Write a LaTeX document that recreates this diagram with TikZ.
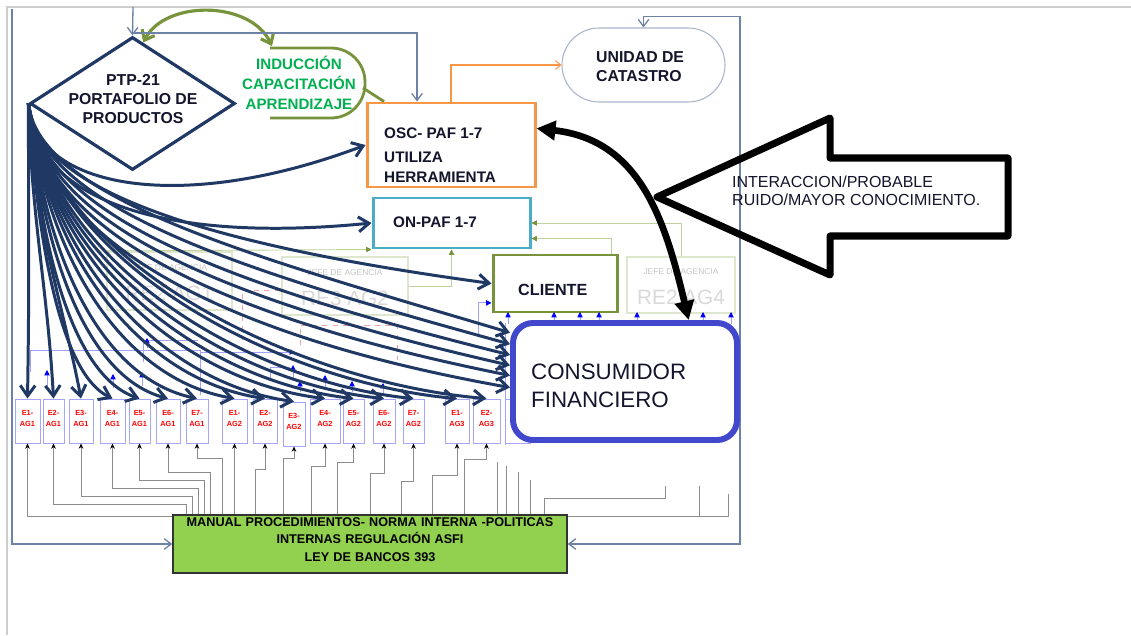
\documentclass[tikz,border=0pt]{standalone}
\usepackage{fontspec}
\setmainfont{Liberation Sans}
\usetikzlibrary{arrows.meta,shapes.geometric,fit}

\definecolor{navy}{RGB}{31,56,100}
\definecolor{inktext}{RGB}{20,20,45}
\definecolor{frameblue}{RGB}{110,130,165}
\definecolor{screengray}{RGB}{205,205,205}
\definecolor{oscorange}{RGB}{247,150,70}
\definecolor{onteal}{RGB}{75,172,198}
\definecolor{olivegreen}{RGB}{119,147,60}
\definecolor{indgreen}{RGB}{0,176,80}
\definecolor{consblue}{RGB}{66,72,204}
\definecolor{manualgreen}{RGB}{146,208,80}
\definecolor{eborder}{RGB}{165,165,250}
\definecolor{faintolive}{RGB}{190,210,160}
\definecolor{faintbox}{RGB}{222,230,205}
\definecolor{wiregray}{RGB}{140,140,140}
\definecolor{lightblue}{RGB}{160,160,255}
\definecolor{faintred}{RGB}{240,160,160}
\definecolor{unidadline}{RGB}{170,180,205}

\tikzset{
  frameline/.style={draw=frameblue, line width=0.75pt},
  barb/.style={-{Straight Barb[length=4pt,width=6pt]}},
  fan/.style={draw=navy, line width=1.7pt, -{Straight Barb[length=6pt,width=8.5pt]}},
  ebox/.style={draw=eborder, line width=0.5pt, inner sep=0pt, text=red, align=center,
     font=\fontsize{4.2}{5.8}\selectfont\bfseries},
  wire/.style={draw=wiregray, line width=0.45pt, {Stealth[length=3pt,width=2.6pt,color=black]}-},
  plainwire/.style={draw=wiregray, line width=0.45pt},
  faintline/.style={draw=faintolive, line width=0.5pt},
  fainttip/.style={faintline, -{Triangle[length=3pt,width=3pt,color=olivegreen]}},
  jefebox/.style={draw=faintbox, line width=0.6pt, inner sep=0pt},
  jefesmall/.style={text=gray!45, font=\fontsize{4.8}{5}\selectfont},
  jefebig/.style={text=gray!30, font=\fontsize{11.8}{12}\selectfont},
  bluewire/.style={draw=lightblue, line width=0.5pt},
  bluetip/.style={bluewire, -{Triangle[length=3pt,width=3pt,color=blue]}},
  boxtext/.style={text=inktext, font=\fontsize{8.7}{11.3}\selectfont\bfseries, align=left},
}

\begin{document}
\begin{tikzpicture}[x=0.02cm, y=-0.02cm]
\useasboundingbox (0,0) rectangle (1131,635);
\fill[white] (0,0) rectangle (1131,635);
\draw[screengray, line width=0.8pt] (7,635) -- (7,7) -- (1131,7);

% ---- faint agency boxes in the background
\node[jefebox, fit={(107,252)(232,310)}] (re2ag1) {};
\node[jefesmall] (re2ag1a) at (169.5,268) {JEFE DE AGENCIA};
\node[jefebig] (re2ag1b) at (169.5,293) {RE2 AG1};
\node[jefebox, fit={(282,257)(408,315)}] (re3ag2) {};
\node[jefesmall] (re3ag2a) at (345,273) {JEFE DE AGENCIA};
\node[jefebig] (re3ag2b) at (345,298) {RE3 AG2};
\node[jefebox, fit={(627,257)(735,313)}] (re2ag4) {};
\node[jefesmall] (re2ag4a) at (681,272) {JEFE DE AGENCIA};
\node[jefebig] (re2ag4b) at (681,297) {RE2 AG4};

% ---- faint red dashed outlines
\draw[faintred, dashed, line width=0.5pt] (280,290) -- (242,290) -- (242,340);
\draw[faintred, dashed, line width=0.5pt] (300,345) -- (300,325) -- (397,325) -- (397,360);

% ---- light blue organisation lines between the staff boxes
\draw[bluewire] (30,372) -- (30,350) -- (200,350) -- (200,395);
\draw[bluewire] (143,362) -- (143,340) -- (198,340);
\draw[bluewire] (200,352) -- (290,352);
\draw[bluewire] (270,378) -- (270,367) -- (290,367);
\draw[bluetip] (47,386) -- (47,370);
\draw[bluetip] (113,388) -- (113,374);
\draw[bluetip] (142,386) -- (142,372);
\draw[bluetip] (147,348) -- (147,338);
\draw[bluetip] (286,352) -- (295,352);
\draw[bluetip] (293,378) -- (293,365);
\draw[bluetip] (300,392) -- (300,381);
\draw[bluetip] (325,388) -- (325,375);
\draw[bluetip] (352,392) -- (352,381);
\draw[bluetip] (383,394) -- (383,383);

% ---- wiring below the staff boxes (drawn under the manual box)
\foreach \n/\lx/\ly in {e12/186/504, e13/192/496, e14/198/488, e15/204/480,
    e16/210/472, e17/222/458, e22/255/469, e23/283/458, e24/311/466,
    e25/337/462, e26/370/473, e27/401/481, e31/432/475, e32/464/459}
  \path coordinate (w\n) at (\lx,\ly);
\draw[plainwire] (497,462) -- (497,516);
\draw[plainwire] (506,466) -- (506,516);
\draw[plainwire] (518,472) -- (518,516);
\draw[plainwire] (530,480) -- (530,516);
\draw[plainwire] (544,516) -- (544,498) -- (665,498) -- (665,486);
\draw[plainwire] (699,486) -- (699,516);

% ---- staff boxes
\foreach \n/\l/\r/\t/\b/\lab in {
  e11/15/40/399/443/{E1-\\AG1}, e12/43/64/399/443/{E2-\\AG1},
  e13/69/93/399/443/{E3-\\AG1}, e14/100/125/399/443/{E4-\\AG1},
  e15/129/150/399/443/{E5-\\AG1}, e16/156/180/399/443/{E6-\\AG1},
  e17/186/208/399/443/{E7-\\AG1}, e21/222/247/399/443/{E1-\\AG2},
  e22/253/277/399/443/{E2-\\AG2}, e23/283/305/402/446/{E3-\\AG2},
  e24/310/340/399/443/{E4-\\AG2}, e25/343/364/399/443/{E5-\\AG2},
  e26/373/395/399/443/{E6-\\AG2}, e27/403/424/399/443/{E7-\\AG2},
  e31/445/469/399/443/{E1-\\AG3}, e32/473/500/399/443/{E2-\\AG3},
  e33/505/530/399/443/{}}
  \node[ebox, fit={(\l,\t)(\r,\b)}] (\n) {\lab};

\draw[wire] (e11.south) |- (728,516) -- (728,494);
\draw[wire] (e21.south) -- (e21.south |- 0,516);
\foreach \n in {e12,e13,e14,e15,e16,e17,e22,e23,e24,e25,e26,e27,e31,e32}
  \draw[wire] (\n.south) |- (w\n) -- (w\n |- 0,516);

% ---- manual box
\node[fit={(173,515)(567,573)}, inner sep=0pt, fill=manualgreen, draw=black!80,
      line width=0.8pt, align=center, text=black,
      font=\fontsize{7.2}{10.2}\selectfont\bfseries] (manual)
  {MANUAL PROCEDIMIENTOS- NORMA INTERNA -POLITICAS\\INTERNAS REGULACIÓN ASFI\\LEY DE BANCOS 393};

% ---- ON-PAF and CLIENTE boxes with their faint olive links
\node[fit={(373,198)(530,248)}, inner sep=0pt, draw=onteal, line width=1.7pt, fill=white] (onpaf) {};
\node[fit={(493,255)(617,312)}, inner sep=0pt, draw=olivegreen, line width=1.7pt, fill=white] (cliente) {};
\draw[fainttip] (re2ag4.north) |- (onpaf.east);
\draw[fainttip] (cliente.28) |- (onpaf.-11);
\draw[fainttip] (re3ag2.east) -| (onpaf.south);
\coordinate (faintL) at (95,251);
\draw[fainttip] (faintL) -- (onpaf.south west);
\draw[bluetip] (478,335) |- (cliente.197);

% ---- products diamond
\node[draw=navy, line width=1.8pt, diamond, minimum width=4.1cm, minimum height=2.66cm,
      inner sep=0pt, fill=white] (ptp) at (132.5,103.5) {};
\node[text=inktext, align=center, font=\fontsize{9}{10.8}\selectfont\bfseries] (ptptext)
  at (133,99) {PTP-21\\PORTAFOLIO DE\\PRODUCTOS};

% ---- induction shape
\draw[olivegreen, line width=1.6pt, rounded corners=0.68cm]
  (270,48) -- (365,48) -- (365,118) -- (270,118);
\node[text=indgreen, align=center, font=\fontsize{8.6}{11.3}\selectfont\bfseries] (ind)
  at (299,83) {INDUCCIÓN\\CAPACITACIÓN\\APRENDIZAJE};

% ---- OSC box
\node[fit={(367,103)(535,187)}, inner sep=0pt, draw=oscorange, line width=1.7pt] (osc) {};
\node[boxtext, anchor=west] (osct) at (378,133) {OSC- PAF 1-7};
\node[boxtext, anchor=west] (oscu) at (378,167) {UTILIZA\\HERRAMIENTA};
\coordinate (indR) at (363,88);
\draw[olivegreen, line width=1.6pt] (indR) -- (osc.147);
\coordinate (indtop) at (272,46);
\draw[olivegreen, line width=1.8pt,
      {Straight Barb[length=5pt,width=8pt]}-{Straight Barb[length=5pt,width=8pt]}]
  (ptp.80) .. controls (165,0) and (250,0) .. (indtop);

% ---- texts of ON-PAF and CLIENTE
\node[boxtext, anchor=west] (onpaft) at (387,222) {ON-PAF 1-7};
\node[boxtext, anchor=west, font=\fontsize{9.2}{11}\selectfont\bfseries] (clientet) at (512,290) {CLIENTE};

% ---- cadastre unit
\node[fit={(562,28)(725,102)}, inner sep=0pt, draw=unidadline, line width=0.6pt,
      rounded corners=0.74cm] (unidad) {};
\node[boxtext, anchor=west, font=\fontsize{9}{10.8}\selectfont\bfseries] (unidadt)
  at (590,67) {UNIDAD DE\\CATASTRO};
\draw[oscorange, line width=0.6pt, -{Straight Barb[length=3pt,width=5pt]}] (osc.north) |- (unidad.west);

% ---- outer frame connectors
\coordinate (frameTL) at (12,9);
\coordinate (topin) at (133,7);
\coordinate (topjoin) at (133,33);
\coordinate (frameBR) at (740,544);
\draw[frameline, barb] (frameTL) |- (manual.west);
\draw[frameline, barb] (topin) -- (ptp.north);
\draw[frameline, barb] (topjoin) -| (osc.128);
\draw[frameline, {Straight Barb[length=4pt,width=6pt]}-{Straight Barb[length=4pt,width=6pt]}]
  (unidad.north) -- ++(0,-11) -| (frameBR) -- (manual.east);

% ---- blue ticks under CLIENTE and RE2 AG4
\foreach \x in {508,554,580,599,637,703,731}
  \draw[bluetip] (\x,324) -- (\x,312);
\draw[bluewire] (505,323) -- (505,445);

% ---- fan of product arrows to every staff member
\foreach \n/\ax/\ay/\bx/\by in {
  e11/0/110/2/-120, e12/3/115/-6/-110, e13/6/125/-18/-95, e14/10/150/-50/-24,
  e15/12/152/-65/-22, e16/14/154/-80/-21, e17/16/156/-95/-20, e21/18/158/-110/-19,
  e22/20/160/-120/-18, e23/21/160/-130/-18, e24/22/162/-140/-17, e25/23/163/-148/-17,
  e26/24/164/-155/-16, e27/25/165/-160/-16, e31/27/166/-170/-15, e32/28/167/-180/-15}
  \draw[fan] (ptp.west) .. controls +(\ax,\ay) and +(\bx,\by) .. (\n.north);

% ---- consumer box and the arrows reaching it
\node[fit={(513,323)(737,440)}, inner sep=0pt, draw=consblue, line width=3.4pt,
      rounded corners=0.4cm, fill=white] (cons) {};
\node[text=inktext, anchor=west, align=left, font=\fontsize{12.7}{15.9}\selectfont] (const)
  at (525,386) {CONSUMIDOR\\FINANCIERO};
\foreach \a/\ax/\ay/\bx/\by in {157/10/96/-252/-75, 162/11/108/-250/-69,
    167/12/120/-248/-62, 172/13/132/-246/-56, 177/14/144/-244/-49, 183/15/156/-242/-43}
  \draw[fan] (ptp.west) .. controls +(\ax,\ay) and +(\bx,\by) .. (cons.\a);
\draw[fan] (ptp.west) .. controls +(5,85) and +(-185,70) .. (osc.west);
\draw[fan] (ptp.west) .. controls +(5,100) and +(-200,20) .. (onpaf.west);
\draw[fan] (ptp.west) .. controls +(5,96) and +(-243,-33) .. (cliente.west);

% ---- interaction arrow between OSC and the consumer
\draw[black, line width=3.8pt,
      {Triangle[length=0.38cm,width=0.38cm]}-{Triangle[length=0.38cm,width=0.38cm]}]
  (osc.11) .. controls (640,140) and (665,220) .. (cons.44);

% ---- large outlined arrow with its note
\draw[black, line width=4pt, line join=round]
  (657,197) -- (830,118) -- (830,158) -- (1008,158) -- (1008,236) -- (830,236) -- (830,275) -- cycle;
\node[text=inktext, anchor=west, align=left, font=\fontsize{9.1}{10.4}\selectfont] (inter)
  at (726,191) {INTERACCION/PROBABLE\\RUIDO/MAYOR CONOCIMIENTO.};
\end{tikzpicture}
\end{document}
